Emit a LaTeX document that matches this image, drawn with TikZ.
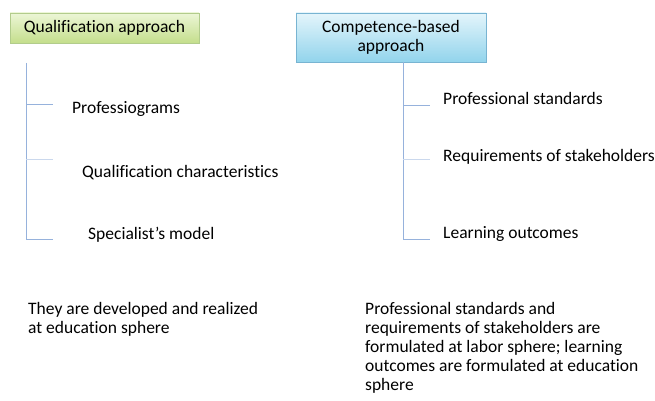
\documentclass[tikz,border=0pt]{standalone}
\usepackage{fontspec}
\setmainfont{Carlito}[Ligatures=NoCommon]
\usepackage{tikz}
\usetikzlibrary{positioning,calc,shadows}
\definecolor{qualtop}{RGB}{236,246,214}
\definecolor{qualbot}{RGB}{196,222,140}
\definecolor{qualline}{RGB}{178,204,140}
\definecolor{comptop}{RGB}{228,245,251}
\definecolor{compbot}{RGB}{146,212,236}
\definecolor{compline}{RGB}{120,180,210}
\definecolor{treeblue}{RGB}{150,178,220}

\begin{document}
\begin{tikzpicture}[x=1pt, y=1pt,
    font=\fontsize{17.5}{19}\selectfont,
    qualbox/.style={rectangle, draw=qualline, top color=qualtop, bottom color=qualbot, minimum width=189pt, minimum height=30pt, drop shadow={opacity=0.2, shadow xshift=1pt, shadow yshift=-1.5pt}},
    compbox/.style={rectangle, draw=compline, top color=comptop, bottom color=compbot, minimum width=190pt, minimum height=49pt, align=center, drop shadow={opacity=0.2, shadow xshift=1pt, shadow yshift=-1.5pt}},
    item/.style={anchor=west, inner sep=0pt},
    note/.style={anchor=north west, inner sep=0pt, align=left},
    branch/.style={draw=treeblue, line width=1pt}]

    \useasboundingbox (0,0) rectangle (655,-401);

    % headings
    \node[qualbox] (qual) at (104.5,-28) {Qualification approach};
    \node[compbox] (comp) at (391,-37.5) {Competence-based\\approach};

    % left list
    \node[item] (profgram) at (72,-109) {Professiograms};
    \node[item] (qualchar) at (82,-173) {Qualification characteristics};
    \node[item] (specmodel) at (88,-235) {Specialist’s model};
    \coordinate (qtop) at (26,-63);
    \coordinate (qb1) at (53,-105);
    \coordinate (qb2) at (53,-159);
    \coordinate (qb3) at (53,-239);
    \draw[branch] (qtop) |- (qb3);
    \draw[branch] (qtop |- qb1) -- (qb1);
    \draw[branch, treeblue!50] (qtop |- qb2) -- (qb2);

    % right list
    \node[item] (profstd) at (443,-98) {Professional standards};
    \node[item] (reqstake) at (443,-157) {Requirements of stakeholders};
    \node[item] (learnout) at (443,-234) {Learning outcomes};
    \coordinate (ctop) at ([xshift=12pt]comp.south);
    \coordinate (cb1) at (430,-106);
    \coordinate (cb2) at (430,-159);
    \coordinate (cb3) at (430,-239);
    \draw[branch] (ctop) |- (cb3);
    \draw[branch] (ctop |- cb1) -- (cb1);
    \draw[branch, treeblue!50] (ctop |- cb2) -- (cb2);

    % notes
    \node[note] (qualnote) at (28,-302) {They are developed and realized\\at education sphere};
    \node[note] (compnote) at (365,-302) {Professional standards and\\requirements of stakeholders are\\formulated at labor sphere; learning\\outcomes are formulated at education\\sphere};
\end{tikzpicture}
\end{document}
